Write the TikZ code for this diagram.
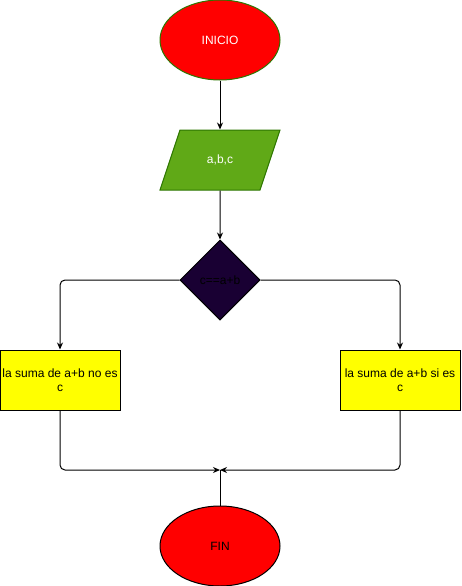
\documentclass[tikz,border=0pt]{standalone}
\usepackage{fontspec}
\setmainfont{Liberation Sans}
\usepackage{tikz}
\usetikzlibrary{arrows.meta, positioning, shapes.geometric}
\definecolor{rojo}{HTML}{FF0000}
\definecolor{verde}{HTML}{60A917}
\definecolor{verdeborde}{HTML}{2D7600}
\definecolor{morado}{HTML}{190033}
\definecolor{amarillo}{HTML}{FFFF00}
\begin{document}
\begin{tikzpicture}[x=1pt, y=-1pt, line width=1pt, every node/.style={font=\fontsize{12}{14}\selectfont, inner sep=0pt},
  terminal/.style={draw, ellipse, fill=rojo, minimum width=120pt, minimum height=80pt},
  datos/.style={draw=verdeborde, fill=verde, text=white, trapezium, trapezium left angle=71.57, trapezium right angle=108.43, trapezium stretches body, text height=9pt, text depth=3pt, inner ysep=24pt, minimum width=120pt, minimum height=60pt},
  decision/.style={draw, diamond, fill=morado, minimum width=80pt, minimum height=80pt},
  caja/.style={draw, fill=amarillo, minimum width=120pt, minimum height=60pt, align=center},
  flecha/.style={-{Stealth[length=7pt, width=6pt]}, rounded corners=5pt}]
	\useasboundingbox (0,0) rectangle (461,586);
	\node[terminal, draw=verdeborde, text=white] (ini) at (220,40) {INICIO};
	\node[datos] (abc) at (220,160) {a,b,c};
	\node[decision] (dec) at (220,280) {c==a+b};
	\node[caja] (no) at (60,380) {la suma de a+b no es\\c};
	\node[caja] (si) at (400,380) {la suma de a+b si es\\c};
	\node[terminal] (fin) at (220,546) {FIN};
	\coordinate (m) at (220,470);
	\draw[flecha] (ini) -- (abc);
	\draw[flecha] (abc) -- (dec);
	\draw[flecha] (dec.west) -| (no.north);
	\draw[flecha] (dec.east) -| (si.north);
	\draw[flecha] (no.south) |- (m);
	\draw[flecha] (si.south) |- (m);
	\draw (fin.north) -- (m);
\end{tikzpicture}
\end{document}
